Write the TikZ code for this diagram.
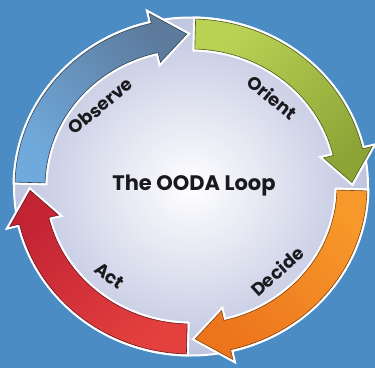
\documentclass[tikz,border=0pt]{standalone}
\usepackage{fontspec}
\setmainfont{Poppins}
\usetikzlibrary{calc}
\definecolor{backdrop}{RGB}{76, 140, 196}
\definecolor{discEdge}{RGB}{192, 197, 224}
\definecolor{observeA}{RGB}{112, 170, 220}
\definecolor{observeB}{RGB}{92, 122, 156}
\definecolor{orientA}{RGB}{186, 210, 84}
\definecolor{orientB}{RGB}{140, 164, 54}
\definecolor{decideA}{RGB}{247, 152, 42}
\definecolor{decideB}{RGB}{236, 116, 28}
\definecolor{actA}{RGB}{228, 64, 62}
\definecolor{actB}{RGB}{194, 36, 52}
\definecolor{ink}{RGB}{26, 26, 30}

\begin{document}
\begin{tikzpicture}[x=1pt, y=1pt, font=\bfseries, text=ink]
    \fill[backdrop] (0,0) rectangle (375,368);
    \useasboundingbox (0,0) rectangle (375,368);
    \coordinate (c) at (191,181.5);
    \shade[inner color=white, outer color=discEdge, draw=white, line width=2pt]
        (c) ellipse[x radius=177, y radius=169];
    \begin{scope}[shift={(c)}]
        \foreach \st/\lbl/\ca/\cb/\pos/\rot/\id in {
            180/Observe/observeA/observeB/137/40/observe,
            90/Orient/orientA/orientB/49/-39/orient,
            0/Decide/decideA/decideB/-46/42/decide,
            -90/Act/actA/actB/-131/-37/act}
        {
            \pgfmathsetmacro{\angS}{\st-1.5}
            \pgfmathsetmacro{\angB}{\st-77}
            \pgfmathsetmacro{\angT}{\st-88.5}
            \pgfmathsetmacro{\angG}{\st-225}
            \shade[bottom color=\ca, top color=\cb, shading angle=\angG,
                draw=\cb!55!black, line width=0.6pt,
                preaction={draw=white, line width=5pt}]
                (\angS:176 and 167.5) arc[start angle=\angS, end angle=\angB, x radius=176, y radius=167.5]
                -- (\angB:186 and 177.5) -- (\angT:161 and 152.5) -- (\angB:136 and 127.5)
                -- (\angB:146 and 137.5) arc[start angle=\angB, end angle=\angS, x radius=146, y radius=137.5]
                -- cycle;
            \node[rotate=\rot, inner sep=0pt, font=\bfseries\fontsize{18}{18}\selectfont] (\id) at (\pos:124 and 118) {\lbl};
        }
    \end{scope}
    \node[font=\bfseries\fontsize{21}{21}\selectfont] (title) at ($(c)+(3,1)$) {The OODA Loop};
\end{tikzpicture}
\end{document}
